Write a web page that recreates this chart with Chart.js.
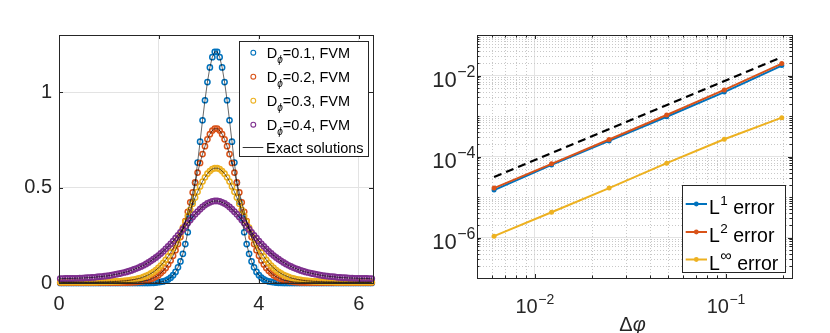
<!DOCTYPE html>
<html>
<head>
<meta charset="utf-8">
<script src="https://cdn.jsdelivr.net/npm/chart.js@4.4.0/dist/chart.umd.min.js"></script>
<style>
body { margin: 0; background: #fff; }
#wrap { position: relative; width: 830px; height: 333px; }
canvas { position: absolute; top: 0; }
#left { left: 0; }
#right { left: 415px; }
</style>
</head>
<body>
<div id="wrap">
<canvas id="left" width="415" height="333"></canvas>
<canvas id="right" width="415" height="333"></canvas>
</div>
<script>
// ---- left panel: solutions on the grid phi ----
const phi = [
0.025,0.074,0.123,0.172,0.221,0.270,0.319,0.368,0.417,0.466,
0.515,0.565,0.614,0.663,0.712,0.761,0.810,0.859,0.908,0.957,
1.006,1.055,1.105,1.154,1.203,1.252,1.301,1.350,1.399,1.448,
1.497,1.546,1.595,1.644,1.694,1.743,1.792,1.841,1.890,1.939,
1.988,2.037,2.086,2.135,2.184,2.234,2.283,2.332,2.381,2.430,
2.479,2.528,2.577,2.626,2.675,2.724,2.773,2.823,2.872,2.921,
2.970,3.019,3.068,3.117,
3.166,3.215,3.264,3.313,3.363,3.412,3.461,3.510,3.559,3.608,
3.657,3.706,3.755,3.804,3.853,3.903,3.952,4.001,4.050,4.099,
4.148,4.197,4.246,4.295,4.344,4.393,4.442,4.492,4.541,4.590,
4.639,4.688,4.737,4.786,4.835,4.884,4.933,4.982,5.032,5.081,
5.130,5.179,5.228,5.277,5.326,5.375,5.424,5.473,5.522,5.571,
5.621,5.670,5.719,5.768,5.817,5.866,5.915,5.964,6.013,6.062,
6.111,6.161,6.210,6.259];

const fvm01 = [
0,0,0,0,0,0,0,0,0,0,0,0,0,0,0,0,0,0,0,0,0,0,0,0,0,0,0,0,0,0,0,0,0,0,0,0,0,
0.001,0.001,0.002,0.004,0.006,0.008,0.013,0.019,0.028,0.041,0.058,0.082,0.113,0.153,
0.204,0.266,0.340,0.427,0.525,0.631,0.741,0.853,0.958,1.053,1.130,1.184,1.212,
1.212,1.184,1.130,1.053,0.958,0.853,0.741,0.631,0.525,0.427,0.340,0.266,0.204,
0.153,0.113,0.082,0.058,0.041,0.028,0.019,0.013,0.008,0.006,0.004,0.002,0.001,0.001,
0,0,0,0,0,0,0,0,0,0,0,0,0,0,0,0,0,0,0,0,0,0,0,0,0,0,0,0,0,0,0,0,0,0,0,0,0];

const fvm02 = [
0.002,0.002,0.002,0.002,0.002,0.002,0.002,0.002,0.002,0.002,0.002,0.002,0.002,0.002,
0.002,0.002,0.002,0.002,0.002,0.002,0.002,0.002,0.002,0.002,0.002,0.002,0.002,0.002,
0.003,0.003,0.004,0.005,0.006,0.008,
0.010,0.013,0.016,0.021,0.026,0.033,0.041,0.052,0.064,0.079,
0.097,0.118,0.143,0.172,0.204,0.241,0.281,0.325,0.373,0.423,
0.475,0.527,0.579,0.629,0.676,0.717,0.753,0.780,0.799,0.809,
0.809,0.799,0.780,0.753,0.717,0.676,0.629,0.579,0.527,0.475,
0.423,0.373,0.325,0.281,0.241,0.204,0.172,0.143,0.118,0.097,
0.079,0.064,0.052,0.041,0.033,0.026,0.021,0.016,0.013,0.010,
0.008,0.006,0.005,0.004,0.003,0.003,
0.002,0.002,0.002,0.002,0.002,0.002,0.002,0.002,0.002,0.002,0.002,0.002,0.002,0.002,
0.002,0.002,0.002,0.002,0.002,0.002,0.002,0.002,0.002,0.002,0.002,0.002,0.002,0.002];

const fvm03 = [
0.005,0.005,0.005,0.005,0.005,0.005,0.005,0.005,0.005,0.005,0.005,0.005,0.005,0.005,0.005,0.005,
0.006,0.006,0.006,0.006,0.007,0.007,0.008,0.008,
0.009,0.010,0.011,0.012,0.014,0.016,0.018,0.021,0.024,0.027,
0.032,0.037,0.043,0.050,0.058,0.068,0.079,0.091,0.106,0.122,
0.140,0.160,0.182,0.206,0.232,0.260,0.290,0.320,0.352,0.384,
0.416,0.448,0.478,0.506,0.532,0.554,0.573,0.587,0.597,0.602,
0.602,0.597,0.587,0.573,0.554,0.532,0.506,0.478,0.448,0.416,
0.384,0.352,0.320,0.290,0.260,0.232,0.206,0.182,0.160,0.140,
0.122,0.106,0.091,0.079,0.068,0.058,0.050,0.043,0.037,0.032,
0.027,0.024,0.021,0.018,0.016,0.014,0.012,0.011,0.010,0.009,
0.008,0.008,0.007,0.007,0.006,0.006,0.006,0.006,
0.005,0.005,0.005,0.005,0.005,0.005,0.005,0.005,0.005,0.005,0.005,0.005,0.005,0.005,0.005,0.005];

const fvm04 = [
0.023,0.023,0.024,0.024,
0.024,0.024,0.025,0.025,0.026,0.026,0.027,0.028,0.028,0.029,
0.030,0.032,0.033,0.034,0.036,0.037,0.039,0.041,0.044,0.046,
0.049,0.052,0.055,0.058,0.062,0.066,0.071,0.076,0.081,0.087,
0.093,0.100,0.108,0.116,0.125,0.134,0.144,0.155,0.166,0.179,
0.192,0.205,0.220,0.235,0.250,0.266,0.282,0.298,0.314,0.330,
0.346,0.361,0.374,0.387,0.399,0.409,0.417,0.423,0.428,0.430,
0.430,0.428,0.423,0.417,0.409,0.399,0.387,0.374,0.361,0.346,
0.330,0.314,0.298,0.282,0.266,0.250,0.235,0.220,0.205,0.192,
0.179,0.166,0.155,0.144,0.134,0.125,0.116,0.108,0.100,0.093,
0.087,0.081,0.076,0.071,0.066,0.062,0.058,0.055,0.052,0.049,
0.046,0.044,0.041,0.039,0.037,0.036,0.034,0.033,0.032,0.030,
0.029,0.028,0.028,0.027,0.026,0.026,0.025,0.025,0.024,0.024,
0.024,0.024,0.023,0.023];

const dValues = ['0.1', '0.2', '0.3', '0.4'];
const leftXTicks = [0, 2, 4, 6];
const leftYTicks = [0, 0.5, 1];

// ---- right panel: convergence ----
const dPhi = [0.00614, 0.01227, 0.02454, 0.04909, 0.09817, 0.19635];
const errL1 = [1.48e-5, 6.2e-5, 2.43e-4, 9.6e-4, 3.9e-3, 1.76e-2];
const errL2 = [1.66e-5, 6.6e-5, 2.63e-4, 1.06e-3, 4.4e-3, 1.97e-2];
const errLinf = [1.08e-6, 4.2e-6, 1.66e-5, 6.86e-5, 2.67e-4, 9.1e-4];
const refX = [0.00614, 0.19635];
const refY = [3.1e-5, 2.85e-2];
const rightXTicks = [0.01, 0.1];
const rightYTicks = [1e-6, 1e-4, 1e-2];

const FONT = "'Liberation Sans', Arial, Helvetica, sans-serif";
const AXIS = '#262626';
const GRID = '#e3e3e3';
const blue = '#0072BD', orange = '#D95319', yellow = '#EDB120', purple = '#7E2F8E';

function pts(xs, ys) { return xs.map((x, i) => ({ x: x, y: ys[i] })); }

// minor tick values for the log axes (every 1..9 x 10^k inside the range)
function logMinors(lo, hi) {
  const out = [];
  for (let e = -8; e <= 0; e++) {
    for (let m = 1; m <= 9; m++) {
      const v = m * Math.pow(10, e);
      if (v >= lo * 0.999 && v <= hi * 1.001) out.push(v);
    }
  }
  return out;
}

// box and inward ticks, like matlab "box on"
function drawFrame(chart, xs, ys, len) {
  const ctx = chart.ctx, a = chart.chartArea;
  const sx = chart.scales.x, sy = chart.scales.y;
  ctx.save();
  ctx.strokeStyle = AXIS;
  ctx.lineWidth = 1;
  ctx.beginPath();
  xs.forEach(v => {
    const p = Math.round(sx.getPixelForValue(v)) + 0.5;
    ctx.moveTo(p, a.bottom); ctx.lineTo(p, a.bottom - len);
    ctx.moveTo(p, a.top); ctx.lineTo(p, a.top + len);
  });
  ys.forEach(v => {
    const p = Math.round(sy.getPixelForValue(v)) + 0.5;
    ctx.moveTo(a.left, p); ctx.lineTo(a.left + len, p);
    ctx.moveTo(a.right, p); ctx.lineTo(a.right - len, p);
  });
  ctx.stroke();
  ctx.strokeRect(a.left + 0.5, a.top + 0.5, a.right - a.left, a.bottom - a.top);
  ctx.restore();
}

// "10" with a raised exponent
function drawPow(ctx, x, base, exp, align, size) {
  const sup = Math.round(size * 0.72);
  ctx.font = size + 'px ' + FONT;
  const w1 = ctx.measureText('10').width;
  ctx.font = sup + 'px ' + FONT;
  const w2 = ctx.measureText(exp).width;
  let x0 = x;
  if (align === 'right') x0 = x - w1 - w2;
  if (align === 'center') x0 = x - (w1 + w2) / 2;
  ctx.textAlign = 'left';
  ctx.textBaseline = 'alphabetic';
  ctx.font = size + 'px ' + FONT;
  ctx.fillText('10', x0, base);
  ctx.font = sup + 'px ' + FONT;
  ctx.fillText(exp, x0 + w1 + 0.5, base - size * 0.45);
}

function circles(ys, color, order) {
  return {
    data: pts(phi, ys), showLine: false, order: order, clip: false,
    pointStyle: 'circle', pointRadius: 2.6, pointBorderWidth: 1.5,
    pointBorderColor: color, pointBackgroundColor: 'rgba(0,0,0,0)'
  };
}
function exact(ys, order) {
  return {
    data: pts(phi, ys), showLine: true, order: order,
    borderColor: 'rgba(0,0,0,0.85)', borderWidth: 0.7, pointRadius: 0
  };
}

const leftDecor = {
  id: 'leftDecor',
  afterDatasetsDraw(chart) {
    drawFrame(chart, leftXTicks, leftYTicks, 4);
    const ctx = chart.ctx;
    ctx.save();
    ctx.fillStyle = '#fff';
    ctx.fillRect(239.5, 41.5, 129, 115);
    ctx.strokeStyle = AXIS;
    ctx.lineWidth = 1;
    ctx.strokeRect(239.5, 41.5, 129, 115);
    const rows = [52.7, 76.7, 100.7, 124.7];
    const cols = [blue, orange, yellow, purple];
    ctx.textBaseline = 'alphabetic';
    ctx.textAlign = 'left';
    rows.forEach((y, i) => {
      ctx.beginPath();
      ctx.arc(253.3, y, 2.4, 0, 2 * Math.PI);
      ctx.strokeStyle = cols[i];
      ctx.lineWidth = 1.1;
      ctx.stroke();
      ctx.fillStyle = '#000';
      ctx.font = '14.5px ' + FONT;
      ctx.fillText('D', 266.7, y + 5.5);
      let x = 266.7 + ctx.measureText('D').width;
      ctx.font = 'italic 10px ' + FONT;
      ctx.fillText('ϕ', x, y + 10);
      x += ctx.measureText('ϕ').width;
      ctx.font = '14.5px ' + FONT;
      ctx.fillText('=' + dValues[i] + ', FVM', x, y + 5.5);
    });
    ctx.strokeStyle = '#000';
    ctx.lineWidth = 0.8;
    ctx.beginPath();
    ctx.moveTo(242.7, 147.5); ctx.lineTo(263.3, 147.5);
    ctx.stroke();
    ctx.font = '14.5px ' + FONT;
    ctx.fillText('Exact solutions', 266, 152.8);
    ctx.restore();
  }
};

new Chart(document.getElementById('left'), {
  type: 'scatter',
  data: {
    datasets: [
      exact(fvm01, 1), exact(fvm02, 2), exact(fvm03, 3), exact(fvm04, 4),
      circles(fvm04, purple, 5), circles(fvm03, yellow, 6),
      circles(fvm02, orange, 7), circles(fvm01, blue, 8)
    ]
  },
  options: {
    responsive: false, animation: false, devicePixelRatio: 1, events: [],
    layout: { padding: { left: 0, top: 35, right: 42, bottom: 0 } },
    plugins: { legend: { display: false }, tooltip: { enabled: false } },
    scales: {
      x: {
        type: 'linear', min: 0, max: 2 * Math.PI,
        afterBuildTicks: s => { s.ticks = leftXTicks.map(v => ({ value: v })); },
        afterFit: s => { s.height = 50; },
        border: { display: false },
        grid: { color: GRID, drawTicks: false },
        ticks: { padding: 9, color: AXIS, autoSkip: false, maxRotation: 0,
          font: { family: FONT, size: 20 }, callback: v => String(v) }
      },
      y: {
        type: 'linear', min: 0, max: 1.3,
        afterBuildTicks: s => { s.ticks = leftYTicks.map(v => ({ value: v })); },
        afterFit: s => { s.width = 59; },
        border: { display: false },
        grid: { color: GRID, drawTicks: false },
        ticks: { padding: 7, color: AXIS, autoSkip: false,
          font: { family: FONT, size: 20 }, callback: v => String(v) }
      }
    }
  },
  plugins: [leftDecor]
});

const xMinor = logMinors(0.005, 0.222);
const yMinor = logMinors(1e-7, 1e-1);

const rightDecor = {
  id: 'rightDecor',
  beforeDatasetsDraw(chart) {
    const ctx = chart.ctx, a = chart.chartArea;
    const sx = chart.scales.x, sy = chart.scales.y;
    ctx.save();
    ctx.strokeStyle = '#c8c8c8';
    ctx.lineWidth = 1;
    ctx.setLineDash([1, 2]);
    ctx.beginPath();
    xMinor.forEach(v => {
      if (rightXTicks.includes(v)) return;
      const p = Math.round(sx.getPixelForValue(v)) + 0.5;
      ctx.moveTo(p, a.top); ctx.lineTo(p, a.bottom);
    });
    yMinor.forEach(v => {
      if (rightYTicks.some(t => Math.abs(t - v) < t * 1e-6)) return;
      const p = Math.round(sy.getPixelForValue(v)) + 0.5;
      ctx.moveTo(a.left, p); ctx.lineTo(a.right, p);
    });
    ctx.stroke();
    ctx.restore();
  },
  afterDatasetsDraw(chart) {
    const ctx = chart.ctx, a = chart.chartArea;
    const sx = chart.scales.x, sy = chart.scales.y;
    drawFrame(chart, xMinor, yMinor, 2.5);
    drawFrame(chart, rightXTicks, rightYTicks, 4);
    ctx.save();
    ctx.fillStyle = AXIS;
    rightYTicks.forEach(v => {
      const e = Math.round(Math.log10(v));
      drawPow(ctx, a.left - 2, sy.getPixelForValue(v) + 11, '\u2212' + (-e), 'right', 22);
    });
    rightXTicks.forEach(v => {
      const e = Math.round(Math.log10(v));
      drawPow(ctx, sx.getPixelForValue(v), 313, '\u2212' + (-e), 'center', 20);
    });
    // axis title
    ctx.font = '20px ' + FONT;
    const wD = ctx.measureText('\u0394').width;
    ctx.font = 'italic 20px ' + FONT;
    const wP = ctx.measureText('\u03C6').width;
    const cx = (a.left + a.right) / 2 - (wD + wP) / 2 - 2;
    ctx.font = '20px ' + FONT;
    ctx.fillText('\u0394', cx, 331);
    ctx.font = 'italic 20px ' + FONT;
    ctx.fillText('\u03C6', cx + wD, 331);

    // legend
    ctx.fillStyle = '#fff';
    ctx.fillRect(267.5, 185.5, 103, 87);
    ctx.strokeStyle = AXIS;
    ctx.lineWidth = 1;
    ctx.strokeRect(267.5, 185.5, 103, 87);
    const rows = [204, 232, 259.5];
    const cols = [blue, orange, yellow];
    const sups = ['1', '2', '\u221E'];
    rows.forEach((y, i) => {
      ctx.strokeStyle = cols[i];
      ctx.lineWidth = 2;
      ctx.beginPath();
      ctx.moveTo(270.7, y); ctx.lineTo(292, y);
      ctx.stroke();
      ctx.fillStyle = cols[i];
      ctx.beginPath();
      ctx.arc(281.3, y, 2.4, 0, 2 * Math.PI);
      ctx.fill();
      ctx.fillStyle = '#000';
      ctx.font = '19.5px ' + FONT;
      ctx.fillText('L', 294, y + 10);
      let x = 294 + ctx.measureText('L').width + 0.5;
      ctx.font = (i === 2 ? '16px ' : '13.5px ') + FONT;
      ctx.fillText(sups[i], x, y + 1);
      x += ctx.measureText(sups[i]).width;
      ctx.font = '19.5px ' + FONT;
      ctx.fillText(' error', x, y + 10);
    });
    ctx.restore();
  }
};

function errLine(ys, color, order) {
  return {
    data: pts(dPhi, ys), showLine: true, order: order,
    borderColor: color, borderWidth: 2, pointRadius: 2.5,
    pointBackgroundColor: color, pointBorderWidth: 0
  };
}

new Chart(document.getElementById('right'), {
  type: 'scatter',
  data: {
    datasets: [
      { data: pts(refX, refY), showLine: true, order: 1, borderColor: '#000',
        borderWidth: 2.2, borderDash: [8, 5], pointRadius: 0 },
      errLine(errLinf, yellow, 2),
      errLine(errL2, orange, 3),
      errLine(errL1, blue, 4)
    ]
  },
  options: {
    responsive: false, animation: false, devicePixelRatio: 1, events: [],
    layout: { padding: { left: 0, top: 35, right: 38, bottom: 0 } },
    plugins: { legend: { display: false }, tooltip: { enabled: false } },
    scales: {
      x: {
        type: 'logarithmic', min: 0.005, max: 0.222,
        afterBuildTicks: s => { s.ticks = rightXTicks.map(v => ({ value: v })); },
        afterFit: s => { s.height = 55; },
        border: { display: false },
        grid: { color: GRID, drawTicks: false },
        ticks: { display: false }
      },
      y: {
        type: 'logarithmic', min: 1e-7, max: 1e-1,
        afterBuildTicks: s => { s.ticks = rightYTicks.map(v => ({ value: v })); },
        afterFit: s => { s.width = 62; },
        border: { display: false },
        grid: { color: GRID, drawTicks: false },
        ticks: { display: false }
      }
    }
  },
  plugins: [rightDecor]
});
</script>
</body>
</html>
